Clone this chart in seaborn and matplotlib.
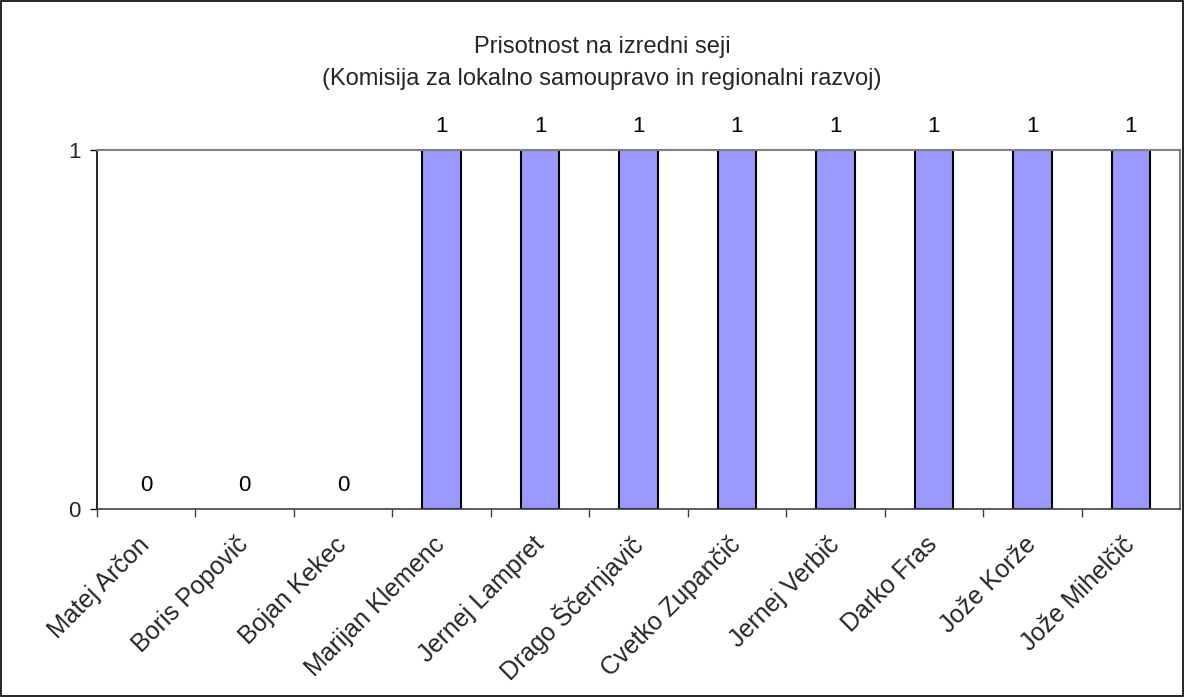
import matplotlib
matplotlib.use("Agg")
import matplotlib.pyplot as plt
import matplotlib.transforms as mtransforms
import seaborn as sns
import pandas as pd
from matplotlib.patches import Rectangle

names = ["Matej Arčon", "Boris Popovič", "Bojan Kekec", "Marijan Klemenc",
         "Jernej Lampret", "Drago Ščernjavič", "Cvetko Zupančič", "Jernej Verbič",
         "Darko Fras", "Jože Korže", "Jože Mihelčič"]
attendance = [0, 0, 0, 1, 1, 1, 1, 1, 1, 1, 1]
title_lines = ["Prisotnost na izredni seji",
               "(Komisija za lokalno samoupravo in regionalni razvoj)"]

sns.set_theme(style="white")
plt.rcParams['font.family'] = ['Liberation Sans', 'DejaVu Sans']

df = pd.DataFrame({"name": names, "val": attendance})

W, H = 1184, 697
fig = plt.figure(figsize=(W / 100, H / 100), dpi=100)
ax = fig.add_axes([97 / W, 1 - 509 / H, (1180 - 97) / W, (509 - 150) / H])

sns.barplot(data=df, x="name", y="val", color="#9999ff", width=0.39,
            edgecolor="black", linewidth=1.5, saturation=1, ax=ax)
for p in ax.patches:
    if p.get_height() == 0:
        p.set_linewidth(0)

ax.set_xlim(-0.5, len(names) - 0.5)
ax.set_ylim(0, 1)
ax.set_yticks([0, 1])
ax.set_yticklabels(["0", "1"], fontsize=16)
ax.set_xlabel("")
ax.set_ylabel("")

# x tick marks at category boundaries, labels at category centres
ax.set_xticks([i - 0.5 for i in range(len(names))], minor=False)
ax.set_xticklabels([])
ax.set_xticks(range(len(names)), minor=True)
labels = ax.set_xticklabels(names, minor=True, rotation=45, ha="right",
                            va="center", rotation_mode="anchor", fontsize=18)
shift = mtransforms.ScaledTranslation(-14 / 100, 0, fig.dpi_scale_trans)
for lab in labels:
    lab.set_transform(lab.get_transform() + shift)
ax.tick_params(axis="x", which="major", direction="out", length=6, width=1,
               color="#404040", bottom=True)
ax.tick_params(axis="x", which="minor", length=0, pad=23, bottom=True)
ax.tick_params(axis="y", direction="out", length=5, width=1, color="black",
               left=True, pad=7)

ax.spines["left"].set_color("black")
ax.spines["left"].set_linewidth(1.2)
ax.spines["bottom"].set_color("#404040")
ax.spines["bottom"].set_linewidth(1.2)
ax.spines["top"].set_color("#808080")
ax.spines["top"].set_linewidth(1.5)
ax.spines["right"].set_color("#808080")
ax.spines["right"].set_linewidth(1.5)

for i, v in enumerate(attendance):
    ax.annotate(str(v), (i, v), xytext=(0, 13), textcoords="offset points",
                ha="center", va="baseline", fontsize=16, color="black",
                annotation_clip=False)

fig.text(602 / W, 1 - 53 / H, title_lines[0], ha="center", va="baseline",
         fontsize=17)
fig.text(602 / W, 1 - 85 / H, title_lines[1], ha="center", va="baseline",
         fontsize=17)

fig.patches.append(Rectangle((1 / W, 1 / H), 1 - 2 / W, 1 - 2 / H,
                             transform=fig.transFigure, fill=False,
                             edgecolor="black", linewidth=1.2))

fig.savefig("out.png", dpi=100)
